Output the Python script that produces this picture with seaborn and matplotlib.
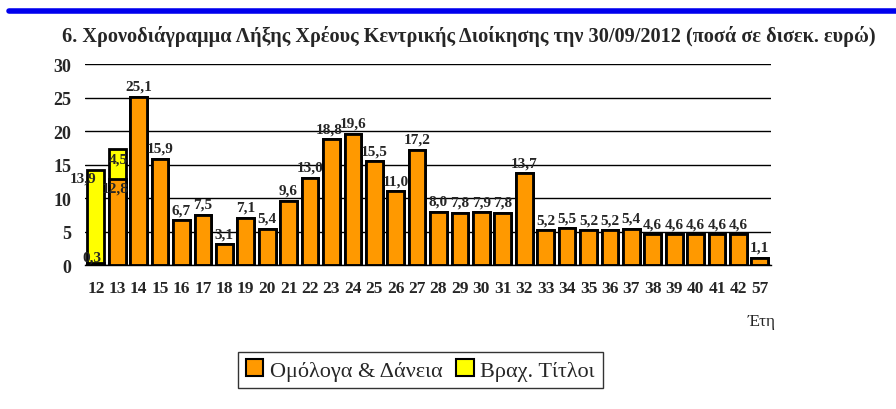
import numpy as np
import pandas as pd
import matplotlib
matplotlib.use('Agg')
import matplotlib.pyplot as plt
import seaborn as sns
from matplotlib.patches import Patch

years = ['12', '13', '14', '15', '16', '17', '18', '19', '20', '21', '22', '23',
         '24', '25', '26', '27', '28', '29', '30', '31', '32', '33', '34', '35',
         '36', '37', '38', '39', '40', '41', '42', '57']
bonds = [0.3, 12.8, 25.1, 15.9, 6.7, 7.5, 3.1, 7.1, 5.4, 9.6, 13.0, 18.8,
         19.6, 15.5, 11.0, 17.2, 8.0, 7.8, 7.9, 7.8, 13.7, 5.2, 5.5, 5.2,
         5.2, 5.4, 4.6, 4.6, 4.6, 4.6, 4.6, 1.1]
bills = [13.9, 4.5] + [0.0] * 30

ORANGE = '#FF9900'
YELLOW = '#FFFF00'

df = pd.DataFrame({'year': years, 'bonds': bonds, 'bills': bills})
df['total'] = df['bonds'] + df['bills']

sns.set_style('white')
plt.rcParams['font.family'] = ['Liberation Serif', 'DejaVu Serif']

fig = plt.figure(figsize=(8.96, 4.1), dpi=100)
ax = fig.add_axes([0.095, 0.351, 0.765, 0.490])

# yellow stacked on top: draw totals first, then orange over the lower part
sns.barplot(data=df, x='year', y='total', color=YELLOW, saturation=1,
            edgecolor='black', linewidth=2, width=0.78, ax=ax)
sns.barplot(data=df, x='year', y='bonds', color=ORANGE, saturation=1,
            edgecolor='black', linewidth=2, width=0.78, ax=ax)

def fmt(v):
    return f'{v:.1f}'.replace('.', ',')

lab = dict(fontsize=11, fontweight='bold', ha='center', va='bottom')
for i, row in df.iterrows():
    if i == 0:
        ax.text(i - 0.6, row['bills'] - 1.9, fmt(row['bills']), **lab)
        ax.text(i - 0.2, row['bonds'] + 0.0, fmt(row['bonds']), **lab)
    elif i == 1:
        ax.text(i + 0.05, row['total'] - 2.5, fmt(row['bills']), **lab)
        ax.text(i - 0.1, row['bonds'] - 2.3, fmt(row['bonds']), **lab)
    elif years[i] == '23':
        ax.text(i - 0.12, row['total'] + 0.6, fmt(row['bonds']), **lab)
    else:
        ax.text(i, row['total'] + 0.6, fmt(row['bonds']), **lab)

ax.set_ylim(0, 30)
ax.set_xlim(-0.5, len(years) - 0.5)
ax.set_yticks(range(0, 31, 5))
ax.yaxis.grid(True, color='black', linewidth=1)
ax.set_axisbelow(True)
for s in ['top', 'right', 'left']:
    ax.spines[s].set_visible(False)
ax.spines['bottom'].set_color('black')
ax.spines['bottom'].set_linewidth(1)

ax.set_xticks(range(len(years)))
ax.set_xticklabels(years, fontsize=12.5, fontweight='bold')
ax.set_xticks(np.arange(-0.5, len(years), 1), minor=True)
ax.tick_params(axis='x', which='major', length=0, pad=11)
ax.tick_params(axis='x', which='minor', length=5, width=1, color='black', direction='out')
ax.tick_params(axis='y', length=0, pad=10, labelsize=13)
for t in ax.get_yticklabels():
    t.set_fontweight('bold')
ax.set_xlabel('')
ax.set_ylabel('')

fig.text(0.85, 0.215, 'Έτη', fontsize=12.5, ha='center', va='center')

fig.add_artist(plt.Line2D([0.01, 1.0], [0.971, 0.971], color='#0000EE', linewidth=4))
fig.text(0.523, 0.912, '6. Χρονοδιάγραμμα Λήξης Χρέους Κεντρικής Διοίκησης την 30/09/2012 (ποσά σε δισεκ. ευρώ)',
         fontsize=14.6, fontweight='bold', ha='center', va='center')

handles = [Patch(facecolor=ORANGE, edgecolor='black', linewidth=1.5),
           Patch(facecolor=YELLOW, edgecolor='black', linewidth=1.5)]
leg = fig.legend(handles, ['Ομόλογα & Δάνεια', 'Βραχ. Τίτλοι'],
                 loc='center', bbox_to_anchor=(0.469, 0.095), ncol=2,
                 fontsize=16, frameon=True, fancybox=False, handlelength=0.8,
                 handleheight=0.8, handletextpad=0.3, columnspacing=0.6,
                 borderpad=0.35, edgecolor='black')
leg.get_frame().set_linewidth(1)

fig.savefig('out.png', dpi=100)
